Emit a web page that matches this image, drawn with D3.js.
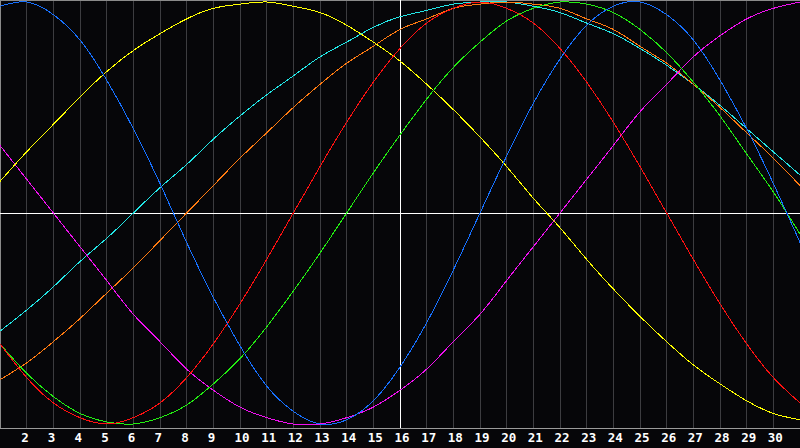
<!DOCTYPE html>
<html>
<head>
<meta charset="utf-8">
<script src="https://cdn.jsdelivr.net/npm/d3@7"></script>
<style>
html,body{margin:0;padding:0;background:#060609;}
svg{display:block;}
</style>
</head>
<body>
<svg id="chart" width="800" height="448"></svg>
<script>
// Days shown on the x axis (grid positions) and their labels
const days = d3.range(1, 32);
const tickLabels = ["2","3","4","5","6","7","8","9","10","11","12","13","14","15","16","17","18","19","20","21","22","23","24","25","26","27","28","29","30"];

// Series values per day (day 1 .. 31), range -1..1
const blueValues = [0.98,1.00,0.94,0.82,0.63,0.40,0.14,-0.14,-0.40,-0.63,-0.82,-0.94,-1.00,-0.98,-0.89,-0.73,-0.52,-0.27,0.00,0.27,0.52,0.73,0.89,0.98,1.00,0.94,0.82,0.63,0.40,0.14,-0.14];
const redValues = [-0.62,-0.78,-0.90,-0.97,-1.00,-0.97,-0.90,-0.78,-0.62,-0.43,-0.22,0.00,0.22,0.43,0.62,0.78,0.90,0.97,1.00,0.97,0.90,0.78,0.62,0.43,0.22,0.00,-0.22,-0.43,-0.62,-0.78,-0.90];
const greenValues = [-0.62,-0.76,-0.87,-0.95,-0.99,-1.00,-0.97,-0.91,-0.81,-0.69,-0.54,-0.37,-0.19,0.00,0.19,0.37,0.54,0.69,0.81,0.91,0.97,1.00,0.99,0.95,0.87,0.76,0.62,0.46,0.28,0.10,-0.10];
const magentaValues = [0.32,0.16,0.00,-0.16,-0.32,-0.48,-0.61,-0.74,-0.84,-0.92,-0.97,-1.00,-1.00,-0.97,-0.92,-0.84,-0.74,-0.61,-0.48,-0.32,-0.16,0.00,0.16,0.32,0.48,0.61,0.74,0.84,0.92,0.97,1.00];
const yellowValues = [0.15,0.29,0.42,0.55,0.67,0.77,0.85,0.92,0.97,0.99,1.00,0.98,0.95,0.89,0.81,0.72,0.61,0.49,0.36,0.22,0.07,-0.07,-0.22,-0.36,-0.49,-0.61,-0.72,-0.81,-0.89,-0.95,-0.98];
const orangeValues = [-0.79,-0.71,-0.61,-0.50,-0.38,-0.26,-0.13,0.00,0.13,0.26,0.38,0.50,0.61,0.71,0.79,0.87,0.92,0.97,0.99,1.00,0.99,0.97,0.92,0.87,0.79,0.71,0.61,0.50,0.38,0.26,0.13];
const cyanValues = [-0.56,-0.46,-0.35,-0.23,-0.12,0.00,0.12,0.23,0.35,0.46,0.56,0.65,0.74,0.81,0.88,0.93,0.96,0.99,1.00,1.00,0.98,0.95,0.90,0.85,0.78,0.70,0.61,0.51,0.40,0.29,0.18];

const seriesList = [
  {name:"cyan", color:"#22e6e6", values:cyanValues},
  {name:"orange", color:"#ff7a10", values:orangeValues},
  {name:"magenta", color:"#f010f0", values:magentaValues},
  {name:"yellow", color:"#ffff00", values:yellowValues},
  {name:"green", color:"#22ee11", values:greenValues},
  {name:"red", color:"#ff1010", values:redValues},
  {name:"blue", color:"#1670ff", values:blueValues}
];

const W = 800, H = 448, plotBottom = 428;
const svg = d3.select("#chart");
svg.append("rect").attr("width", W).attr("height", H).attr("fill", "#060609");

const x = d3.scaleLinear().domain([1, 31]).range([0, 800]);
const y = d3.scaleLinear().domain([-1, 1]).range([424, 2]);
const px = v => Math.floor(v) + 0.5;

// vertical day grid
svg.append("g").selectAll("line").data(days.slice(1, 30)).join("line")
  .attr("x1", d => px(x(d))).attr("x2", d => px(x(d)))
  .attr("y1", 0).attr("y2", plotBottom)
  .attr("stroke", "#3c3c40").attr("stroke-width", 1)
  .attr("shape-rendering", "crispEdges");

// frame
svg.append("line").attr("x1", 0).attr("x2", W).attr("y1", 0.5).attr("y2", 0.5)
  .attr("stroke", "#8a8a8a").attr("shape-rendering", "crispEdges");
svg.append("line").attr("x1", 0.5).attr("x2", 0.5).attr("y1", 0).attr("y2", plotBottom)
  .attr("stroke", "#8a8a8a").attr("shape-rendering", "crispEdges");
svg.append("line").attr("x1", 0).attr("x2", W).attr("y1", plotBottom + 0.5).attr("y2", plotBottom + 0.5)
  .attr("stroke", "#9a9a9a").attr("shape-rendering", "crispEdges");

// axis labels
const axis = d3.axisBottom(x).tickValues(days.slice(1, 30)).tickSize(0)
  .tickFormat((d, i) => tickLabels[i]);
const gAxis = svg.append("g").attr("transform", `translate(0,${plotBottom})`).call(axis);
gAxis.select(".domain").remove();
gAxis.selectAll("text")
  .attr("fill", "#ffffff")
  .attr("font-family", "'DejaVu Sans Mono', monospace")
  .attr("font-weight", "bold")
  .attr("font-size", "12.5px")
  .attr("text-anchor", "start")
  .attr("x", -6)
  .attr("y", 5)
  .attr("dy", "0.71em");

// centre cross lines
svg.append("line").attr("x1", 0).attr("x2", W).attr("y1", px(y(0))).attr("y2", px(y(0)))
  .attr("stroke", "#ffffff").attr("shape-rendering", "crispEdges");
svg.append("line").attr("x1", px(x(16))).attr("x2", px(x(16))).attr("y1", 0).attr("y2", plotBottom)
  .attr("stroke", "#ffffff").attr("shape-rendering", "crispEdges");

// curves
const line = d3.line().x((d, i) => x(days[i])).y(d => y(d)).curve(d3.curveNatural);
svg.append("clipPath").attr("id", "clip").append("rect")
  .attr("x", 0).attr("y", 0).attr("width", W).attr("height", plotBottom);
svg.append("g").attr("clip-path", "url(#clip)").selectAll("path").data(seriesList).join("path")
  .attr("d", s => line(s.values))
  .attr("fill", "none")
  .attr("stroke", s => s.color)
  .attr("stroke-width", 1)
  .attr("shape-rendering", "crispEdges");
</script>
</body>
</html>
